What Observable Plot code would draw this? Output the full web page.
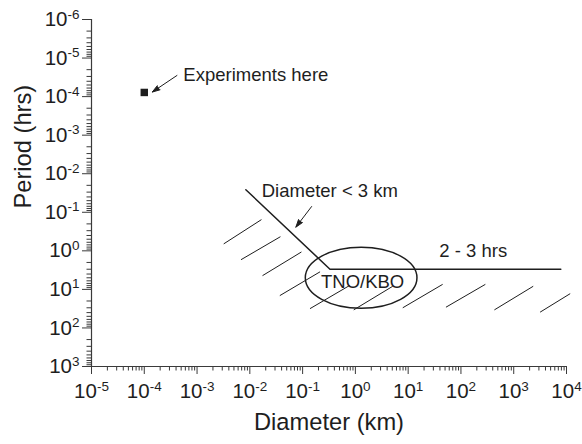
<!DOCTYPE html>
<html>
<head>
<meta charset="utf-8">
<script src="https://cdn.jsdelivr.net/npm/d3@7"></script>
<script src="https://cdn.jsdelivr.net/npm/@observablehq/plot@0.6"></script>
<style>
  html, body { margin: 0; padding: 0; background: #fff; }
  svg text.tick10 { font-size: 20.5px !important; }
  svg text.tick10 tspan { font-size: 13.5px !important; }
</style>
</head>
<body>
<div id="chart"></div>
<script>
// ---- Axis ticks ----
const xTicks = [1e-5, 1e-4, 1e-3, 1e-2, 1e-1, 1e0, 1e1, 1e2, 1e3, 1e4];
const xTickLabels = ["10^-5", "10^-4", "10^-3", "10^-2", "10^-1", "10^0", "10^1", "10^2", "10^3", "10^4"];
const yTicks = [1e-6, 1e-5, 1e-4, 1e-3, 1e-2, 1e-1, 1e0, 1e1, 1e2, 1e3];
const yTickLabels = ["10^-6", "10^-5", "10^-4", "10^-3", "10^-2", "10^-1", "10^0", "10^1", "10^2", "10^3"];
const minorMultipliers = [2, 3, 4, 5, 6, 7, 8, 9];

// ---- Data ----
const experimentX = [1e-4];
const experimentY = [7.8e-5];

const boundaryX = [0.0084, 0.33, 7800];
const boundaryY = [0.026, 3.0, 3.0];

const hatchX1 = [3.2e-3, 6.8e-3, 0.0174, 0.037, 0.138, 0.93, 7.9, 52, 430, 3160];
const hatchY1 = [0.66, 1.7, 4.4, 14.5, 31.6, 34, 30, 29, 34, 39];
const hatchX2 = [0.0166, 0.038, 0.095, 0.214, 0.78, 5.1, 45, 290, 2340, 11750];
const hatchY2 = [0.155, 0.43, 1.07, 3.5, 7.9, 8.3, 7.4, 7.4, 8.3, 12.9];

const ellipseX = [0.115, 15];
const ellipseY = [0.83, 31.8];

const labelText = ["Experiments here", "Diameter < 3 km", "2 - 3 hrs", "TNO/KBO"];
const labelX = [5.5e-4, 0.0168, 39, 1.37];
const labelY = [2.7e-5, 0.0289, 1.04, 6.35];

const arrowX1 = [4.16e-4, 0.148];
const arrowY1 = [2.83e-5, 0.071];
const arrowX2 = [1.42e-4, 0.0745];
const arrowY2 = [7.6e-5, 0.243];

// ---- Derived tables ----
const xMinor = xTicks.slice(0, -1).flatMap(t => minorMultipliers.map(m => t * m));
const yMinor = yTicks.slice(0, -1).flatMap(t => minorMultipliers.map(m => t * m));
const boundary = boundaryX.map((x, i) => ({x, y: boundaryY[i]}));
const hatch = hatchX1.map((x1, i) => ({x1, y1: hatchY1[i], x2: hatchX2[i], y2: hatchY2[i]}));
const arrows = arrowX1.map((x1, i) => ({x1, y1: arrowY1[i], x2: arrowX2[i], y2: arrowY2[i]}));
const labels = labelText.map((text, i) => ({text, x: labelX[i], y: labelY[i]}));
const experiments = experimentX.map((x, i) => ({x, y: experimentY[i]}));
const ellipse = [{x1: ellipseX[0], x2: ellipseX[1], y1: ellipseY[0], y2: ellipseY[1]}];

const ink = "#1e1e1e";
const axisInk = "#3a3a3a";
const fs = 18.5;

const plot = Plot.plot({
  width: 582,
  height: 444,
  marginLeft: 91,
  marginRight: 16,
  marginTop: 19,
  marginBottom: 78,
  style: {fontFamily: "'Liberation Sans', Arial, Helvetica, sans-serif", color: ink, background: "#fff"},
  x: {type: "log", domain: [1e-5, 1e4]},
  y: {type: "log", domain: [1e-6, 1e3], reverse: true},
  marks: [
    // minor ticks
    Plot.axisX(xMinor, {tickSize: 4.5, tickFormat: () => "", label: null, stroke: axisInk}),
    Plot.axisY(yMinor, {tickSize: 4.5, tickFormat: () => "", label: null, stroke: axisInk}),
    // major ticks with labels
    Plot.axisX(xTicks, {tickSize: 8, tickPadding: 9, fontSize: 20.5, label: null, stroke: axisInk,
      tickFormat: d => xTickLabels[xTicks.indexOf(d)]}),
    Plot.axisY(yTicks, {tickSize: 9, tickPadding: 3, fontSize: 20.5, label: null, stroke: axisInk,
      tickFormat: d => yTickLabels[yTicks.indexOf(d)]}),
    // axis lines
    Plot.ruleX([1e-5], {stroke: axisInk, strokeWidth: 1.2}),
    Plot.ruleY([1e3], {stroke: axisInk, strokeWidth: 1.2}),
    // axis titles
    Plot.text(["Period (hrs)"], {text: d => d, frameAnchor: "left", rotate: -90, dx: -68, dy: 15.5, fontSize: 23.7, fill: ink}),
    Plot.text(["Diameter (km)"], {text: d => d, frameAnchor: "bottom", dy: 63, fontSize: 23.7, fill: ink}),
    // hatch
    Plot.link(hatch, {x1: "x1", y1: "y1", x2: "x2", y2: "y2", stroke: ink, strokeWidth: 1}),
    // boundary
    Plot.line(boundary, {x: "x", y: "y", stroke: ink, strokeWidth: 1.5}),
    // ellipse
    Plot.rect(ellipse, {x1: "x1", x2: "x2", y1: "y1", y2: "y2", rx: 1000, ry: 1000, fill: "none", stroke: ink, strokeWidth: 1.5}),
    // experiment marker
    Plot.dot(experiments, {x: "x", y: "y", symbol: "square", r: 4.2, fill: ink, stroke: "none"}),
    // arrows
    Plot.arrow(arrows, {x1: "x1", y1: "y1", x2: "x2", y2: "y2", stroke: ink, fill: ink, strokeWidth: 1, headLength: 12, headAngle: 36}),
    // labels
    Plot.text(labels.slice(0, 3), {x: "x", y: "y", text: "text", textAnchor: "start", fontSize: fs, fill: ink}),
    Plot.text(labels.slice(3), {x: "x", y: "y", text: "text", textAnchor: "middle", fontSize: fs, fill: ink})
  ]
});

// superscript exponents in tick labels
const NS = "http://www.w3.org/2000/svg";
plot.querySelectorAll("text").forEach(t => {
  const m = t.textContent.match(/^10\^(-?\d+)$/);
  if (m) {
    t.textContent = "10";
    t.classList.add("tick10");
    t.setAttribute("fill", ink);
    const ts = document.createElementNS(NS, "tspan");
    ts.setAttribute("dy", "-7.5");
    ts.textContent = m[1];
    t.appendChild(ts);
  }
});

document.getElementById("chart").appendChild(plot);
</script>
</body>
</html>
